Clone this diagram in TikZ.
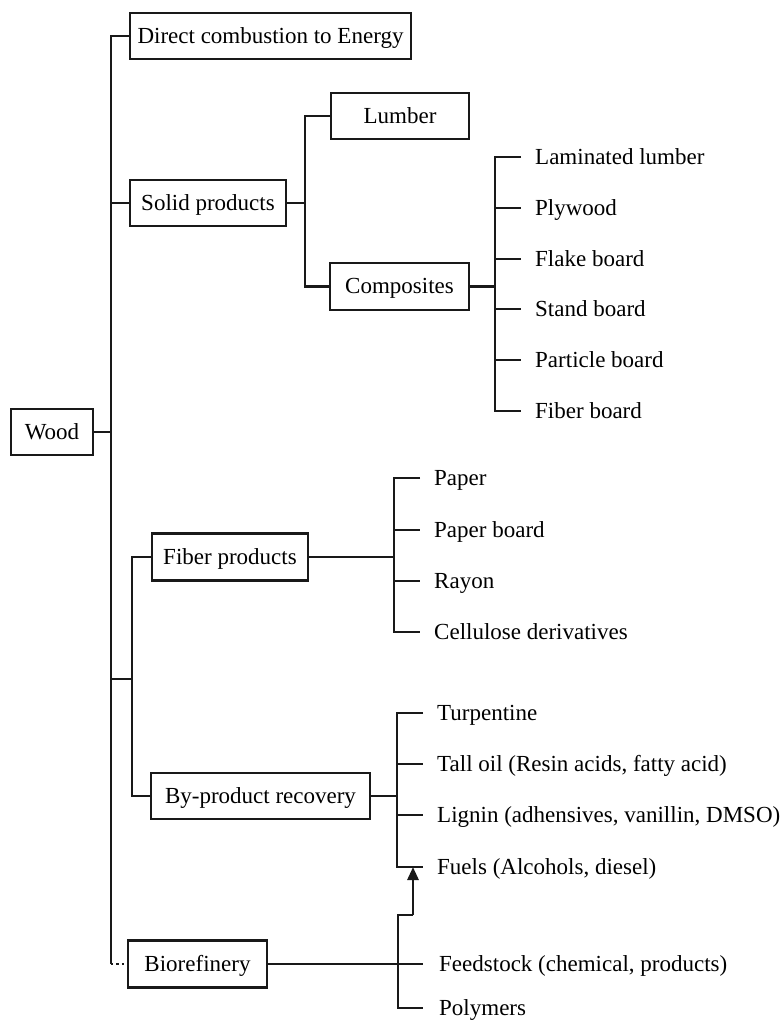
\documentclass[tikz,border=0pt]{standalone}
\usepackage{fontspec}
\setmainfont{Liberation Serif}
\usetikzlibrary{arrows.meta}
\begin{document}
\begin{tikzpicture}[x=1pt,y=-1pt,
  every node/.style={font=\fontsize{23}{27}\selectfont, text=black},
  box/.style={draw=black!90, line width=2.8pt, minimum height=46pt, inner sep=0pt, text height=16pt, text depth=2pt},
  leaf/.style={anchor=west, inner sep=0pt, text height=16pt, text depth=2pt},
  conn/.style={draw=black!90, line width=2.8pt},
  dotconn/.style={draw=black!90, line width=2.4pt, dash pattern=on 2.4pt off 3pt},
  arr/.style={draw=black!90, line width=2.8pt, -{Triangle[length=13pt,width=11pt]}}
]
\useasboundingbox (0,0) rectangle (782,1021);

% boxes
\node[box, minimum width=281pt] (dc) at (270.5,36) {Direct combustion to Energy};
\node[box, minimum width=138pt] (lumber) at (400,116) {Lumber};
\node[box, minimum width=156pt] (solid) at (208,203) {Solid products};
\node[box, minimum width=139pt, minimum height=47pt] (comp) at (399.5,286.5) {Composites};
\node[box, minimum width=82pt] (wood) at (52,432) {Wood};
\node[box, minimum width=156pt, minimum height=47pt] (fiber) at (230,557) {Fiber products};
\node[box, minimum width=219pt] (byp) at (260.5,796) {By-product recovery};
\node[box, minimum width=139pt, minimum height=47pt] (bio) at (197.5,964) {Biorefinery};

% composites leaves
\node[leaf] (c1) at (535,157) {Laminated lumber};
\node[leaf] (c2) at (535,208) {Plywood};
\node[leaf] (c3) at (535,259) {Flake board};
\node[leaf] (c4) at (535,309) {Stand board};
\node[leaf] (c5) at (535,360) {Particle board};
\node[leaf] (c6) at (535,411) {Fiber board};

% fiber leaves
\node[leaf] (f1) at (434,478) {Paper};
\node[leaf] (f2) at (434,530) {Paper board};
\node[leaf] (f3) at (434,581) {Rayon};
\node[leaf] (f4) at (434,632) {Cellulose derivatives};

% by-product leaves
\node[leaf] (p1) at (437,713) {Turpentine};
\node[leaf] (p2) at (437,764) {Tall oil (Resin acids, fatty acid)};
\node[leaf] (p3) at (437,815) {Lignin (adhensives, vanillin, DMSO)};
\node[leaf] (p4) at (437,867) {Fuels (Alcohols, diesel)};

% biorefinery leaves
\node[leaf] (b1) at (439,964) {Feedstock (chemical, products)};
\node[leaf] (b2) at (439,1008) {Polymers};

% main trunk
\coordinate (mainx) at (111,0);
\coordinate (innj) at (132,679);
\coordinate (innx) at (132,0);
\draw[conn] (dc.west) -| (mainx |- bio.west);
\draw[conn] (solid.west) -- (mainx |- solid.west);
\draw[conn] (wood.east) -- (mainx |- wood.east);
\draw[dotconn] (mainx |- bio.west) -- (bio.west);
\draw[conn] (mainx |- innj) -- (innj);
\draw[conn] (fiber.west) -| (innx |- byp.west) -- (byp.west);

% solid products group
\coordinate (sx) at (305,0);
\draw[conn] (solid.east) -- (sx |- solid.east);
\draw[conn] (lumber.west) -| (sx |- comp.west) -- (comp.west);

% composites group
\coordinate (cbx) at (495,0);
\draw[conn] (comp.east) -- (cbx |- comp.east);
\draw[conn] ([xshift=-14pt]c1.west) -| (cbx |- c6.west) -- ([xshift=-14pt]c6.west);
\foreach \n in {c2,c3,c4,c5}
  \draw[conn] (cbx |- \n.west) -- ([xshift=-14pt]\n.west);

% fiber group
\coordinate (fbx) at (394,0);
\draw[conn] (fiber.east) -- (fbx |- fiber.east);
\draw[conn] ([xshift=-14pt]f1.west) -| (fbx |- f4.west) -- ([xshift=-14pt]f4.west);
\foreach \n in {f2,f3}
  \draw[conn] (fbx |- \n.west) -- ([xshift=-14pt]\n.west);

% by-product group
\coordinate (pbx) at (397,0);
\draw[conn] (byp.east) -- (pbx |- byp.east);
\draw[conn] ([xshift=-14pt]p1.west) -| (pbx |- p4.west) -- ([xshift=-14pt]p4.west);
\foreach \n in {p2,p3}
  \draw[conn] (pbx |- \n.west) -- ([xshift=-14pt]\n.west);

% biorefinery group
\coordinate (bj) at (398,915);
\coordinate (bj2) at (413,915);
\draw[conn] (bio.east) -- ([xshift=-16pt]b1.west);
\draw[conn] (bj2) -- (bj) -- (bj |- b2.west) -- ([xshift=-16pt]b2.west);
\draw[arr] (bj2) -- (bj2 |- p4.west);
\end{tikzpicture}
\end{document}
